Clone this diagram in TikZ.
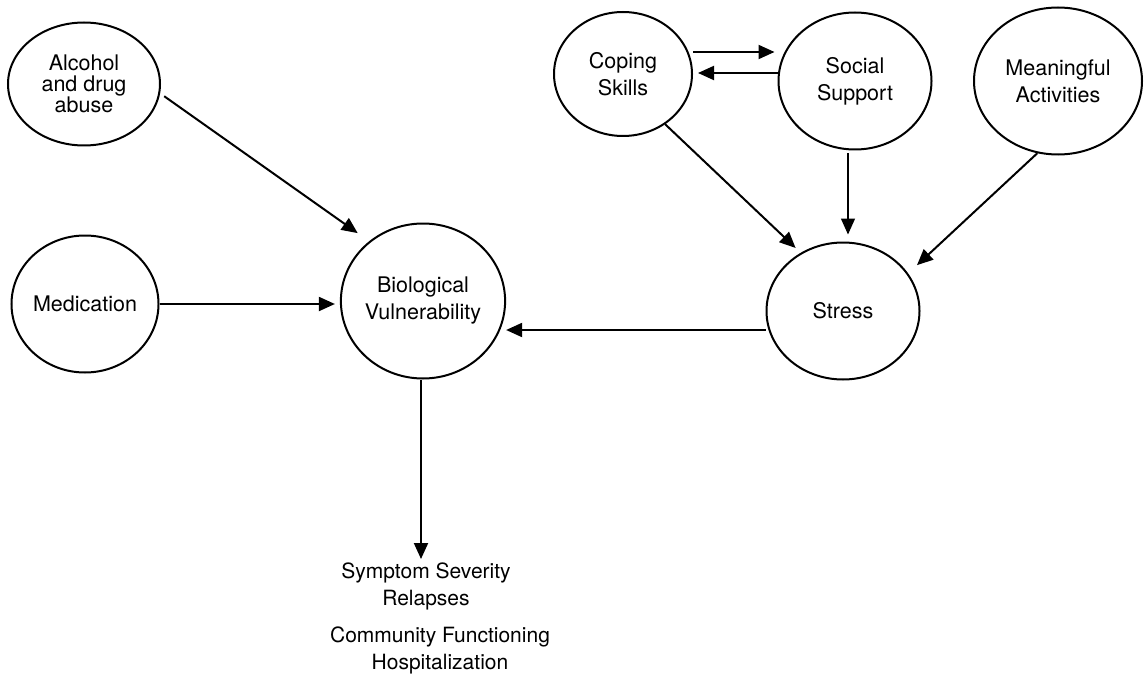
\documentclass[tikz,border=0pt]{standalone}
\usepackage{fontspec}
\setmainfont{TeX Gyre Heros}
\usetikzlibrary{arrows.meta,shapes.geometric,positioning}

\begin{document}
\begin{tikzpicture}[
  x=1pt, y=-1pt,
  factor/.style={ellipse, draw, line width=2pt, inner sep=0pt, align=center, font=\fontsize{21.5}{27}\selectfont},
  outcome/.style={align=center, inner sep=0pt, font=\fontsize{21}{27}\selectfont},
  arr/.style={-{Triangle[length=16pt,width=14pt]}, line width=2pt},
]
  \useasboundingbox (0,0) rectangle (1146,690);

  \node[factor, minimum width=152pt, minimum height=123pt, font=\fontsize{21.5}{21}\selectfont] (alc) at (84,84) {Alcohol\\and drug\\abuse};
  \node[factor, minimum width=142pt, minimum height=137pt] (med) at (85,304) {Medication};
  \node[factor, minimum width=161pt, minimum height=155pt] (bio) at (423,301) {Biological\\Vulnerability};
  \node[factor, minimum width=138pt, minimum height=124pt] (cop) at (623,74) {Coping\\Skills};
  \node[factor, minimum width=153pt, minimum height=137pt] (soc) at (855,81) {Social\\Support};
  \node[factor, minimum width=168pt, minimum height=147pt] (mea) at (1058,81) {Meaningful\\Activities};
  \node[factor, minimum width=153pt, minimum height=137pt] (str) at (843,311) {Stress};

  \node[outcome, anchor=north] (sym) at (426,563) {Symptom Severity\\Relapses};
  \node[outcome, anchor=north] (com) at (440,627) {Community Functioning\\Hospitalization};

  % influences on vulnerability
  \draw[arr, shorten <=5pt, shorten >=14pt] (alc.-7) -- (bio.132);
  \draw[arr, shorten >=5pt] (med.east) -- (med.east -| bio.west);
  \draw[arr] ([yshift=-19pt]str.west) -- ([yshift=-19pt]str.west -| bio.east);

  % coping and support
  \draw[arr, shorten >=3pt] ([yshift=22pt]cop.east) -- ([yshift=22pt]cop.east -| soc.west);
  \draw[arr, shorten >=5pt] ([yshift=8pt]soc.west) -- ([yshift=8pt]soc.west -| cop.east);

  % into stress
  \draw[arr, shorten >=7pt] (cop.-50) -- (str.126);
  \draw[arr, line width=1.4pt, shorten <=3pt, shorten >=7pt] ([xshift=-7pt]soc.south) -- ([xshift=5pt]str.north);
  \draw[arr, shorten >=12pt] (mea.-106) -- (str.30);

  % outcome
  \draw[arr, shorten >=4pt] ([xshift=-2pt]bio.south) -- ([xshift=-2pt]bio.south |- sym.north);
\end{tikzpicture}
\end{document}
